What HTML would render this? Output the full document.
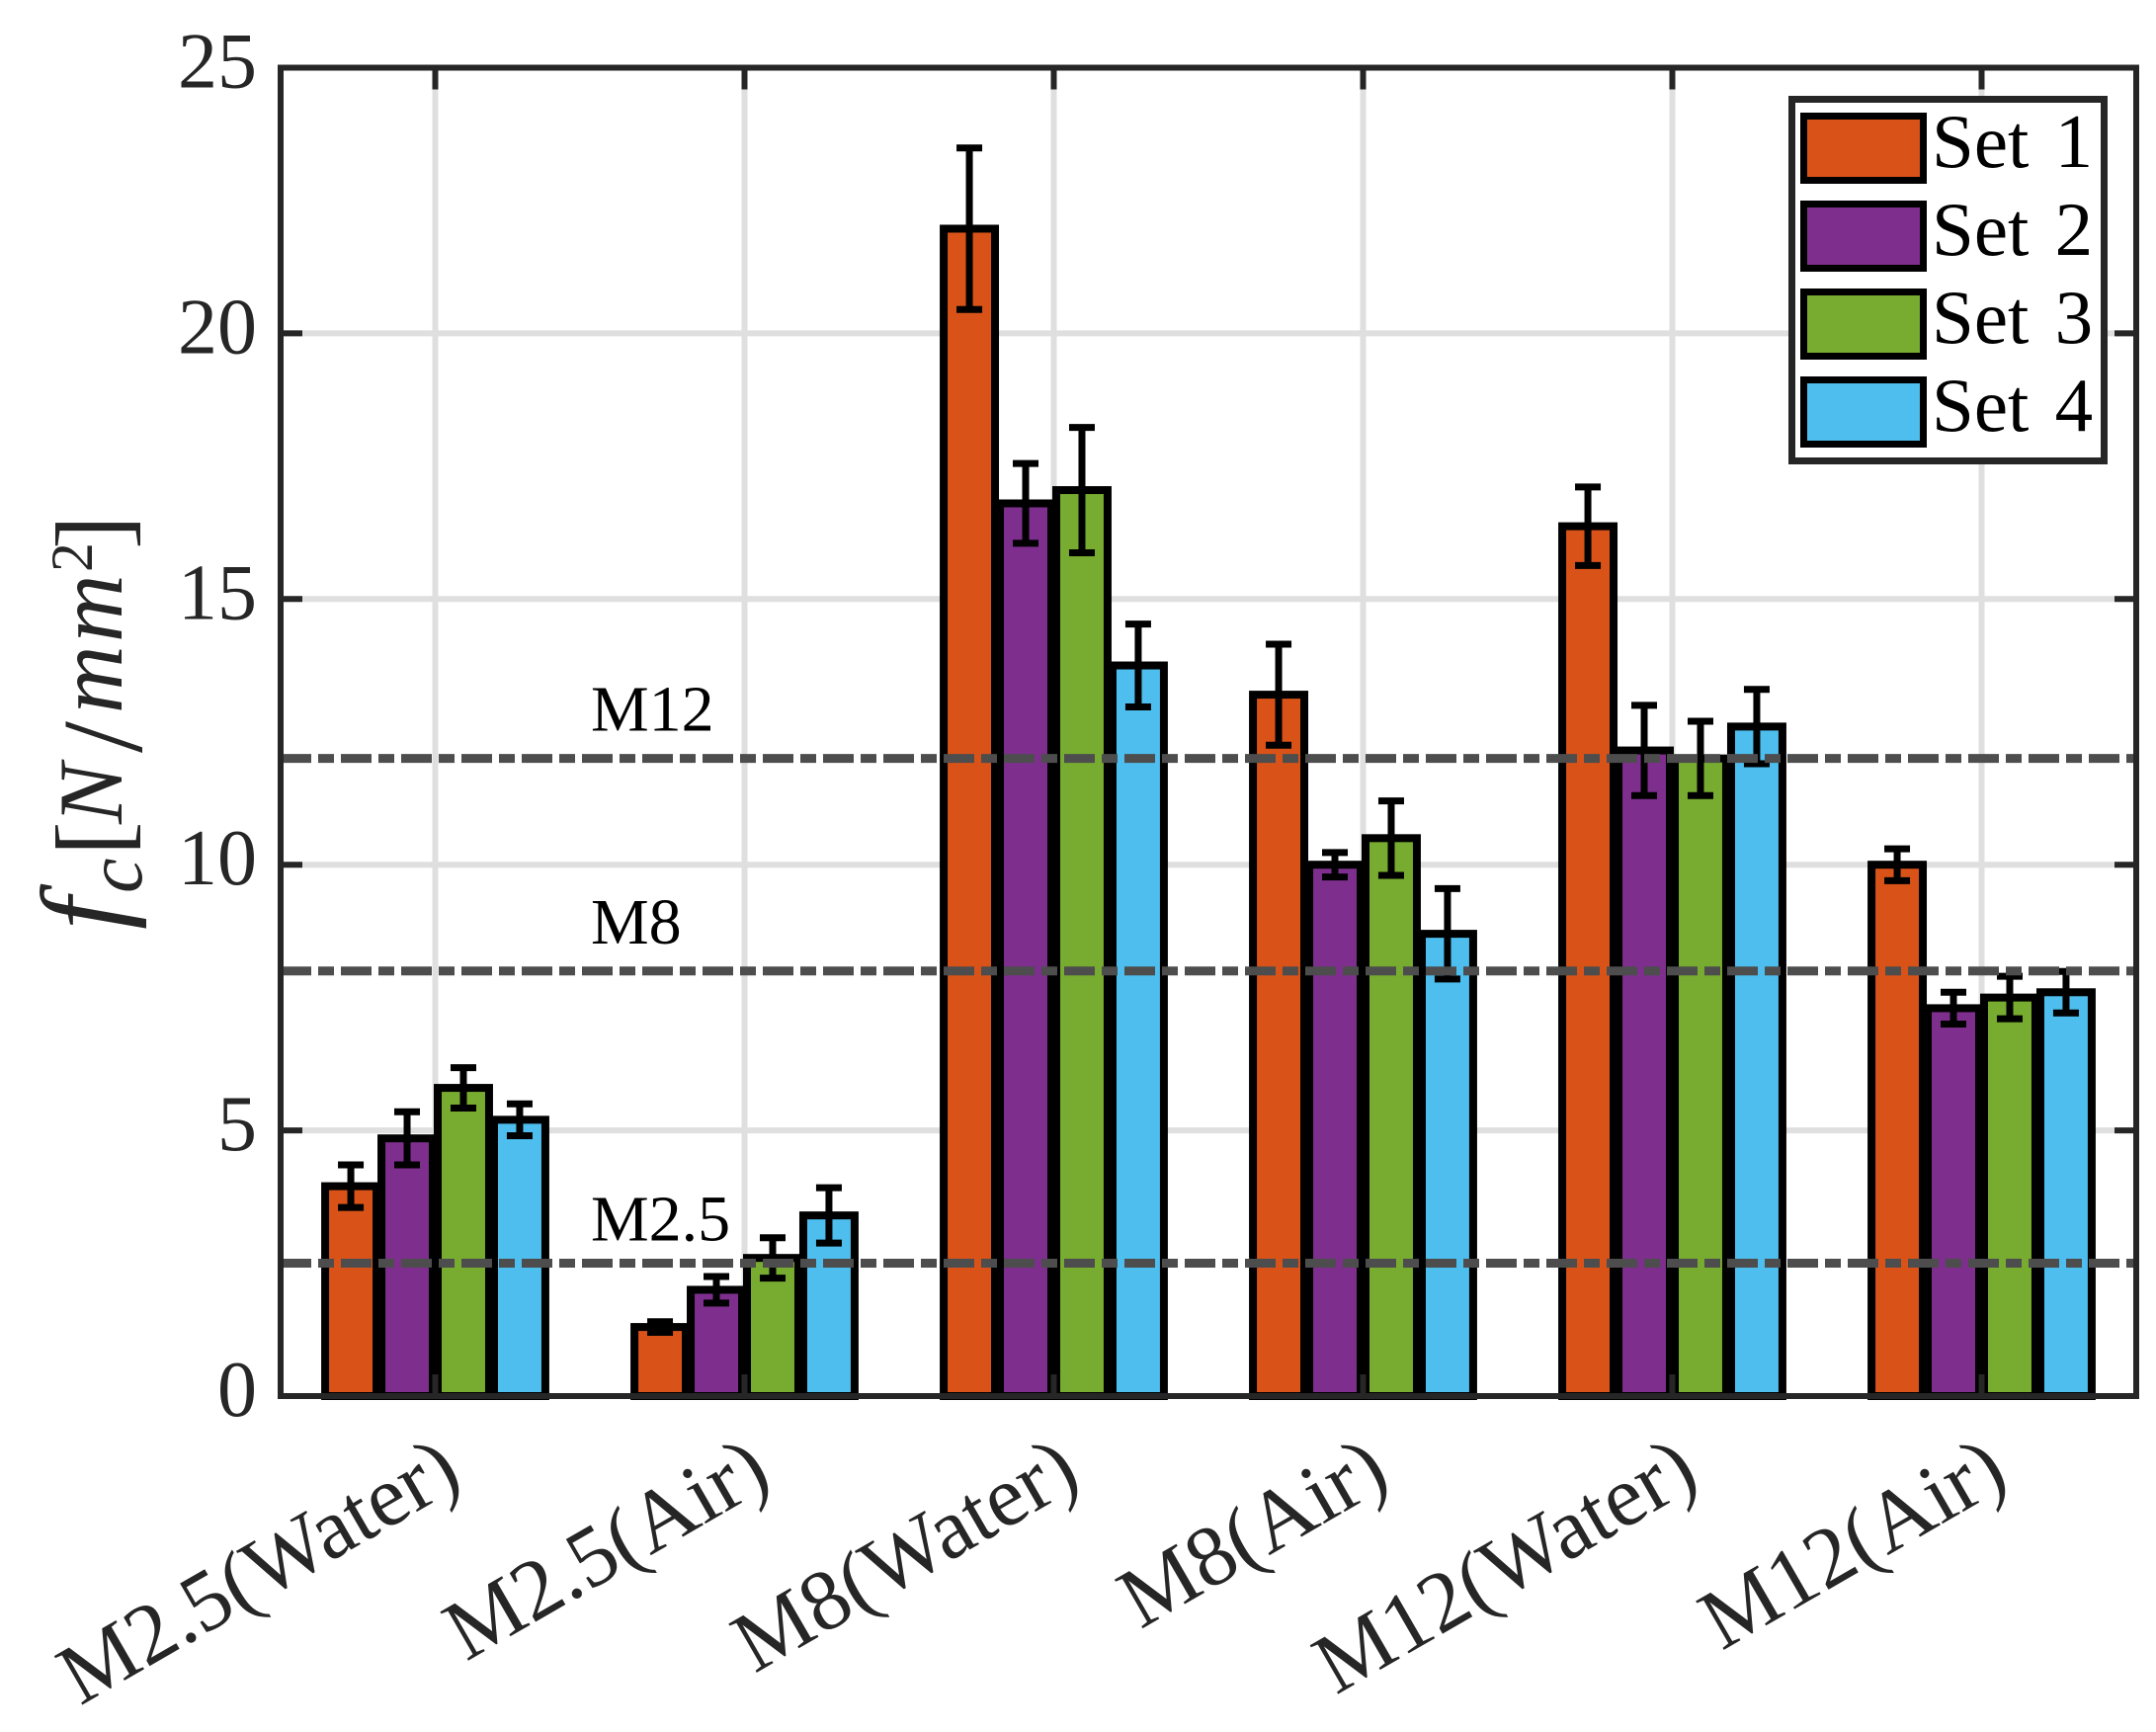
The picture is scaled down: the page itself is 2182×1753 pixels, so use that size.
<!DOCTYPE html>
<html>
<head>
<meta charset="utf-8">
<title>Bar chart of fc by specimen</title>
<style>
html,body{margin:0;padding:0;background:#fff;}
svg{display:block;}
text{font-family:"Liberation Serif",serif;}
</style>
</head>
<body>
<svg id="chart" xmlns="http://www.w3.org/2000/svg" width="2182" height="1753" viewBox="0 0 2182 1753">
<rect x="0" y="0" width="2182" height="1753" fill="#fff"/>
<g id="grid"></g>
<g id="bars"></g>
<g id="refs"></g>
<g id="axes"></g>
<g id="labels"></g>
<text transform="translate(123,960) rotate(-90)" fill="#262626" font-size="95" font-style="italic"><tspan x="19" y="0" font-size="118">f</tspan><tspan x="56" y="20" font-size="80">c</tspan><tspan x="94" y="5" font-size="104" font-style="normal">[</tspan><tspan x="126" y="0" font-size="92">N</tspan><tspan x="198" y="20" font-size="115" font-style="normal">/</tspan><tspan x="238" y="0">m</tspan><tspan x="310" y="0">m</tspan><tspan x="381" y="-30" font-size="60" font-style="normal">2</tspan><tspan x="404" y="5" font-size="104" font-style="normal">]</tspan></text>
<g>
  <rect x="1813.5" y="100.5" width="316" height="366" fill="#fff" stroke="#262626" stroke-width="7"/>
  <g>
    <rect x="1825.5" y="117.5" width="121" height="65" fill="#D95319" stroke="#000" stroke-width="7"/>
    <text x="1955" y="169" font-size="77" fill="#000" word-spacing="7">Set 1</text>
  </g>
  <g>
    <rect x="1825.5" y="206.5" width="121" height="65" fill="#7E2F8E" stroke="#000" stroke-width="7"/>
    <text x="1955" y="258" font-size="77" fill="#000" word-spacing="7">Set 2</text>
  </g>
  <g>
    <rect x="1825.5" y="295.5" width="121" height="65" fill="#77AC30" stroke="#000" stroke-width="7"/>
    <text x="1955" y="347" font-size="77" fill="#000" word-spacing="7">Set 3</text>
  </g>
  <g>
    <rect x="1825.5" y="384.5" width="121" height="65" fill="#4DBEEE" stroke="#000" stroke-width="7"/>
    <text x="1955" y="436" font-size="77" fill="#000" word-spacing="7">Set 4</text>
  </g>
</g>
</svg>
<script>
const categories = ["M2.5(Water)", "M2.5(Air)", "M8(Water)", "M8(Air)", "M12(Water)", "M12(Air)"];
const seriesNames = ["set-1", "set-2", "set-3", "set-4"];
const seriesColors = ["#D95319", "#7E2F8E", "#77AC30", "#4DBEEE"];
const set1 = [3.95, 1.3, 21.97, 13.2, 16.37, 10];
const set2 = [4.85, 2.0, 16.8, 10, 12.15, 7.3];
const set3 = [5.8, 2.6, 17.05, 10.5, 12, 7.5];
const set4 = [5.2, 3.4, 13.75, 8.7, 12.6, 7.6];
const err1 = [0.4, 0.1, 1.52, 0.95, 0.74, 0.3];
const err2 = [0.5, 0.25, 0.75, 0.23, 0.85, 0.3];
const err3 = [0.38, 0.38, 1.18, 0.7, 0.7, 0.4];
const err4 = [0.3, 0.52, 0.78, 0.85, 0.7, 0.39];
const yTicks = [0, 5, 10, 15, 20, 25];
const refValues = [2.5, 8, 12];
const refLabels = ["M2.5", "M8", "M12"];

const seriesValues = [set1, set2, set3, set4];
const seriesErrors = [err1, err2, err3, err4];

const NS = "http://www.w3.org/2000/svg";
const plotL = 284, plotR = 2162, plotT = 68.5, plotB = 1413;
function xScale(pos) { return plotL + (pos + 0.5) * (plotR - plotL) / categories.length; }
function yScale(v) { return plotB - v * (plotB - plotT) / 25; }
const barStep = 0.182, barWidth = 0.166;

function line(parent, x1, y1, x2, y2, stroke, width) {
  const el = document.createElementNS(NS, "line");
  el.setAttribute("x1", x1);
  el.setAttribute("y1", y1);
  el.setAttribute("x2", x2);
  el.setAttribute("y2", y2);
  el.setAttribute("stroke", stroke);
  el.setAttribute("stroke-width", width);
  parent.appendChild(el);
  return el;
}

const grid = document.getElementById("grid");
const bars = document.getElementById("bars");
const refs = document.getElementById("refs");
const axes = document.getElementById("axes");
const labels = document.getElementById("labels");

categories.forEach(function (c, i) {
  const el = line(grid, xScale(i), plotT, xScale(i), plotB, "#dfdfdf", 6);
  
  
});
yTicks.forEach(function (t) {
  const el = line(grid, plotL, yScale(t), plotR, yScale(t), "#dfdfdf", 6);
  
  
});

seriesValues.forEach(function (vals, s) {
  vals.forEach(function (v, i) {
    const cx = xScale(i + (s - 1.5) * barStep);
    const w = barWidth * (plotR - plotL) / categories.length;
    const r = document.createElementNS(NS, "rect");
    
    
    r.setAttribute("x", cx - w / 2);
    r.setAttribute("y", yScale(v));
    r.setAttribute("width", w);
    r.setAttribute("height", yScale(0) - yScale(v));
    r.setAttribute("fill", seriesColors[s]);
    r.setAttribute("stroke", "#000");
    r.setAttribute("stroke-width", 8);
    bars.appendChild(r);
  });
});
seriesValues.forEach(function (vals, s) {
  vals.forEach(function (v, i) {
    const cx = xScale(i + (s - 1.5) * barStep);
    const e = seriesErrors[s][i];
    const g = document.createElementNS(NS, "g");
    
    
    line(g, cx, yScale(v + e), cx, yScale(v - e), "#000", 7);
    line(g, cx - 13, yScale(v + e), cx + 13, yScale(v + e), "#000", 7);
    line(g, cx - 13, yScale(v - e), cx + 13, yScale(v - e), "#000", 7);
    bars.appendChild(g);
  });
});

refValues.forEach(function (v, i) {
  const el = line(refs, plotL, yScale(v), plotR, yScale(v), "#4d4d4d", 9);
  el.setAttribute("stroke-dasharray", "31 7 16 7");
  
  
  const t = document.createElementNS(NS, "text");
  
  
  t.setAttribute("x", 598);
  t.setAttribute("y", yScale(v) - (i === 0 ? 23 : 28));
  t.setAttribute("font-size", 66);
  t.setAttribute("fill", "#000");
  t.textContent = refLabels[i];
  refs.appendChild(t);
});

categories.forEach(function (c, i) {
  const a = line(axes, xScale(i), plotB, xScale(i), plotB - 22, "#262626", 6);
  
  
  const b = line(axes, xScale(i), plotT, xScale(i), plotT + 22, "#262626", 6);
  
  
  const t = document.createElementNS(NS, "text");
  
  
  t.setAttribute("text-anchor", "end");
  t.setAttribute("font-size", 87);
  t.setAttribute("fill", "#262626");
  t.setAttribute("transform", "translate(" + (xScale(i) + 30) + "," + (plotB + 89) + ") rotate(-30)");
  t.textContent = c;
  labels.appendChild(t);
});
yTicks.forEach(function (v) {
  const a = line(axes, plotL, yScale(v), plotL + 22, yScale(v), "#262626", 6);
  
  
  const b = line(axes, plotR, yScale(v), plotR - 22, yScale(v), "#262626", 6);
  
  
  const t = document.createElementNS(NS, "text");
  
  
  t.setAttribute("x", 260);
  t.setAttribute("y", yScale(v) + 20);
  t.setAttribute("text-anchor", "end");
  t.setAttribute("font-size", 80);
  t.setAttribute("fill", "#262626");
  t.textContent = v;
  labels.appendChild(t);
});
const spine = document.createElementNS(NS, "rect");


spine.setAttribute("x", plotL);
spine.setAttribute("y", plotT);
spine.setAttribute("width", plotR - plotL);
spine.setAttribute("height", plotB - plotT);
spine.setAttribute("fill", "none");
spine.setAttribute("stroke", "#262626");
spine.setAttribute("stroke-width", 6);
axes.appendChild(spine);
</script>
</body>
</html>
